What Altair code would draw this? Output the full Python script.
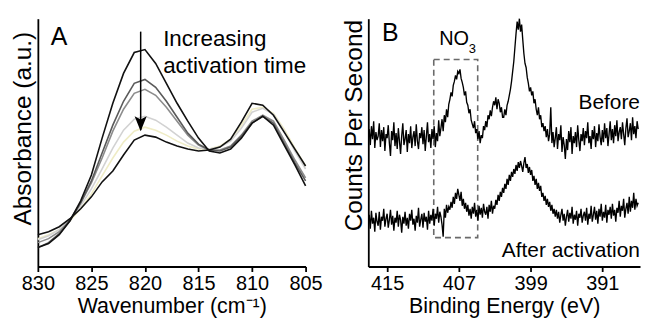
import altair as alt
import pandas as pd

FONT = "Liberation Sans"

# ---------------- Panel A : FTIR spectra ----------------
wavenumbers = [830, 829, 828, 827, 826, 825, 824, 823, 822, 821, 820, 819, 818,
               817, 816, 815, 814, 813, 812, 811, 810, 809, 808, 807, 806, 805]
abs_t0 = [19, 23, 32, 46, 66, 92, 129, 164, 194, 215, 218, 204, 184, 164, 146, 129,
          116, 114, 118, 129, 144, 151, 142, 122, 102, 81]
abs_t1 = [19, 24, 33, 46, 64, 86, 114, 142, 166, 184, 188, 180, 166, 150, 134, 123,
          117, 116, 120, 131, 144, 151, 144, 124, 104, 86]
abs_t2 = [24, 28, 35, 47, 64, 84, 109, 136, 158, 174, 178, 172, 160, 146, 132, 122,
          117, 117, 121, 132, 146, 152, 146, 127, 107, 89]
abs_t3 = [27, 31, 37, 47, 61, 78, 98, 119, 137, 148, 151, 147, 140, 132, 124, 119,
          118, 120, 126, 139, 155, 159, 153, 136, 116, 98]
abs_t4 = [28, 32, 37, 46, 58, 73, 91, 109, 125, 136, 140, 137, 132, 126, 121, 118,
          118, 121, 128, 142, 158, 160, 154, 138, 119, 101]
abs_t5 = [32, 35, 40, 48, 58, 70, 85, 96, 112, 127, 132, 130, 125, 121, 118, 116,
          117, 120, 128, 145, 164, 162, 152, 135, 118, 101]
ftir_series = [abs_t4, abs_t3, abs_t2, abs_t1, abs_t0, abs_t5]
ftir_colors = ["#efecc6", "#d2d2d2", "#8c8c8c", "#5a5a5a", "#111111", "#111111"]

# ---------------- Panel B : XPS N1s spectra ----------------
e_start, e_step, n_pts = 417.0, 0.125, 241
energies = [e_start - e_step * i for i in range(n_pts)]
cps_before = [
    138, 122, 141, 128, 146, 119, 135, 127,
    131, 144, 120, 137, 126, 140, 116, 133,
    129, 142, 124, 111, 136, 127, 145, 121,
    134, 118, 139, 126, 113, 131, 144, 122,
    128, 137, 115, 133, 124, 141, 119, 130,
    136, 121, 143, 126, 118, 134, 129, 140,
    123, 137, 116, 131, 145, 125, 133, 119,
    138, 128, 141, 120, 134, 126, 147, 131,
    139, 148, 136, 152, 145, 158, 150, 163,
    168, 175, 171, 182, 186, 192, 188, 196,
    194, 198, 189, 185, 180, 172, 176, 165,
    162, 154, 158, 147, 143, 139, 146, 134,
    138, 128, 136, 124, 132, 129, 141, 137,
    146, 140, 152, 148, 157, 151, 160, 166,
    162, 170, 158, 168, 164, 155, 160, 150,
    150, 158, 152, 162, 166, 172, 178, 186,
    196, 206, 220, 234, 246, 238, 249, 236,
    243, 228, 214, 204, 200, 190, 184, 176,
    180, 172, 176, 164, 168, 158, 152, 160,
    148, 152, 140, 144, 136, 141, 130, 138,
    126, 133, 160, 124, 135, 120, 129, 140,
    118, 133, 127, 142, 115, 130, 122, 108,
    128, 117, 136, 125, 140, 113, 131, 124,
    135, 120, 142, 127, 116, 133, 126, 139,
    122, 136, 129, 145, 124, 131, 118, 137,
    128, 141, 120, 134, 126, 143, 130, 122,
    137, 125, 144, 129, 139, 121, 133, 146,
    127, 138, 124, 142, 131, 147, 126, 135,
    140, 128, 145, 133, 122, 139, 149, 130,
    136, 144, 127, 150, 133, 141, 129, 146,
    138]
cps_after = [
    52, 38, 56, 43, 49, 35, 54, 45,
    41, 55, 37, 50, 46, 58, 40, 48,
    53, 39, 47, 57, 42, 51, 36, 49,
    44, 56, 40, 52, 47, 34, 50, 43,
    55, 41, 49, 38, 53, 46, 57, 42,
    48, 36, 51, 44, 59, 40, 47, 53,
    39, 54, 45, 50, 37, 56, 43, 52,
    46, 58, 41, 53, 48, 60, 44, 55,
    50, 42, 30, 58, 49, 62, 54, 60,
    57, 65, 59, 70, 63, 74, 68, 78,
    72, 66, 75, 61, 68, 58, 64, 55,
    62, 51, 58, 48, 60, 53, 64, 50,
    57, 46, 61, 52, 59, 49, 63, 55,
    52, 60, 48, 62, 55, 66, 53, 61,
    58, 67, 62, 72, 66, 75, 70, 79,
    74, 83, 78, 88, 82, 92, 86, 95,
    90, 98, 93, 102, 96, 105, 99, 106,
    101, 95, 104, 110, 99, 103, 94, 100,
    92, 97, 86, 91, 82, 88, 78, 84,
    76, 81, 70, 74, 66, 71, 62, 68,
    60, 65, 56, 62, 53, 58, 50, 57,
    48, 55, 44, 52, 58, 46, 53, 41,
    50, 57, 45, 54, 48, 60, 43, 52,
    47, 56, 41, 53, 49, 58, 44, 51,
    55, 46, 59, 42, 53, 48, 61, 45,
    52, 60, 47, 56, 43, 58, 50, 63,
    46, 55, 49, 62, 44, 57, 52, 60,
    48, 63, 51, 57, 45, 59, 54, 66,
    50, 61, 56, 68, 49, 58, 64, 53,
    70, 55, 66, 59, 74, 57, 68, 61,
    64]
no3_box = {"x": 409.8, "x2": 404.9, "y": 208, "y2": 29}

# ---------------- shared axis styling ----------------
def x_axis(vals, title):
    return alt.Axis(values=vals, title=title, labelFlush=False, labelOverlap=False,
                    labelFont=FONT, titleFont=FONT, labelFontSize=20, titleFontSize=21.5,
                    labelPadding=2, titlePadding=2)


def y_axis(title, ty):
    return alt.Axis(labels=False, ticks=False, title=title, titleY=ty, titleFont=FONT,
                    titleFontSize=24.5, titlePadding=2)


# ---------------- build panel A ----------------
scA_x = alt.Scale(domain=[805, 830], reverse=True, nice=False, zero=False)
scA_y = alt.Scale(domain=[0, 249], nice=False, zero=False)
xA = alt.X("w:Q", scale=scA_x, axis=x_axis([830, 825, 820, 815, 810, 805], "Wavenumber (cm⁻¹)"))
yA = alt.Y("a:Q", scale=scA_y, axis=y_axis("Absorbance (a.u.)", 110))

layersA = []
for vals, col in zip(ftir_series, ftir_colors):
    df = pd.DataFrame({"w": wavenumbers, "a": vals})
    layersA.append(alt.Chart(df).mark_line(color=col, strokeWidth=1.6).encode(x=xA, y=yA))

arrow_df = pd.DataFrame({"w": [820.4], "a": [236], "a2": [137]})
layersA.append(alt.Chart(arrow_df).mark_rule(color="black", strokeWidth=1.5).encode(
    x=alt.X("w:Q"), y=alt.Y("a:Q"), y2="a2:Q"))
head_df = pd.DataFrame({"w": [820.4], "a": [143.5]})
layersA.append(alt.Chart(head_df).mark_point(
    shape="M0,1 L-0.8,-1 L0,-0.55 L0.8,-1 Z", size=230, filled=True, color="black",
    opacity=1).encode(x="w:Q", y="a:Q"))

txtA = pd.DataFrame({"w": [818.3, 818.3], "a": [229, 201],
                     "t": ["Increasing", "activation time"]})
layersA.append(alt.Chart(txtA).mark_text(align="left", baseline="middle", fontSize=22.5,
                                        font=FONT, color="black").encode(
    x="w:Q", y="a:Q", text="t:N"))
labA = pd.DataFrame({"w": [828.8], "a": [231], "t": ["A"]})
layersA.append(alt.Chart(labA).mark_text(align="left", baseline="middle", fontSize=25,
                                        font=FONT, color="black").encode(
    x="w:Q", y="a:Q", text="t:N"))

panelA = alt.layer(*layersA).properties(width=269, height=249)

# ---------------- build panel B ----------------
scB_x = alt.Scale(domain=[386.8, 417.1], reverse=True, nice=False, zero=False)
scB_y = alt.Scale(domain=[0, 249], nice=False, zero=False)
xB = alt.X("e:Q", scale=scB_x, axis=x_axis([415, 407, 399, 391], "Binding Energy (eV)"))
yB = alt.Y("c:Q", scale=scB_y, axis=y_axis("Counts Per Second", 107))

layersB = []
box_df = pd.DataFrame([no3_box])
layersB.append(alt.Chart(box_df).mark_rect(fillOpacity=0, stroke="#6a6a6a",
                                          strokeWidth=1.6, strokeDash=[6, 4]).encode(
    x=alt.X("x:Q", scale=scB_x), x2="x2:Q", y=alt.Y("y:Q", scale=scB_y), y2="y2:Q"))
for vals in [cps_before, cps_after]:
    df = pd.DataFrame({"e": energies, "c": vals})
    layersB.append(alt.Chart(df).mark_line(color="black", strokeWidth=1.35).encode(x=xB, y=yB))

txtB = pd.DataFrame({"e": [386.8, 386.8], "c": [164, 16], "t": ["Before", "After activation"]})
layersB.append(alt.Chart(txtB).mark_text(align="right", baseline="middle", fontSize=21,
                                        font=FONT, color="black").encode(
    x="e:Q", y="c:Q", text="t:N"))
labB = pd.DataFrame({"e": [415.56], "c": [235], "t": ["B"]})
layersB.append(alt.Chart(labB).mark_text(align="left", baseline="middle", fontSize=25,
                                        font=FONT, color="black").encode(
    x="e:Q", y="c:Q", text="t:N"))
no_df = pd.DataFrame({"e": [409.2], "c": [228.5], "t": ["NO"]})
layersB.append(alt.Chart(no_df).mark_text(align="left", baseline="middle", fontSize=20,
                                         font=FONT, color="black").encode(
    x="e:Q", y="c:Q", text="t:N"))
sub_df = pd.DataFrame({"e": [405.9], "c": [219], "t": ["3"]})
layersB.append(alt.Chart(sub_df).mark_text(align="left", baseline="middle", fontSize=13,
                                          font=FONT, color="black").encode(
    x="e:Q", y="c:Q", text="t:N"))

panelB = alt.layer(*layersB).properties(width=273, height=249)

chart = alt.hconcat(panelA, panelB, spacing=63, bounds="flush").properties(
    padding={"left": 3, "top": 7, "right": 0, "bottom": 0}
).configure(font=FONT).configure_view(stroke=None).configure_axis(
    grid=False, domainColor="black", domainWidth=1.8, tickColor="black", tickWidth=1.8,
    tickSize=5, labelFont=FONT, labelColor="black",
    titleFont=FONT, titleFontWeight="normal", titleColor="black"
)

chart.save("out.html", embed_options={"renderer": "svg", "actions": False})
